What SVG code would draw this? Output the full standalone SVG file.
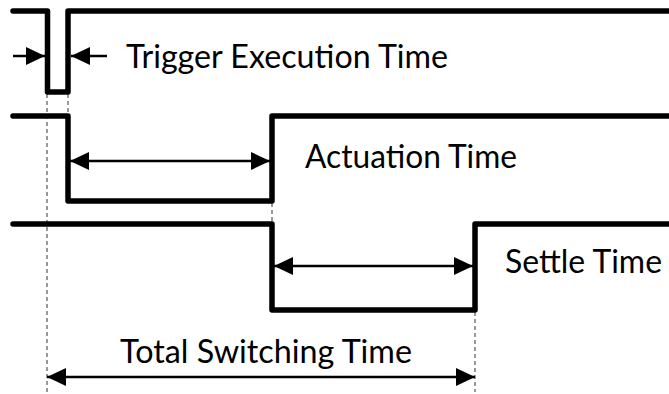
<svg xmlns="http://www.w3.org/2000/svg" width="669" height="394" viewBox="0 0 669 394">
  <style>
    .sig { fill: none; stroke: #000; stroke-width: 5.5; stroke-linejoin: round; stroke-linecap: round; }
    .dim { fill: none; stroke: #000; stroke-width: 2.5; }
    .guide { fill: none; stroke: #999; stroke-width: 2; stroke-dasharray: 4 3; }
    .lbl { font-family: Lato, "Open Sans", "Liberation Sans", sans-serif; font-size: 32px; fill: #000; }
  </style>
  <defs>
    <marker id="head" viewBox="0 0 19 18" refX="19" refY="9" markerWidth="19" markerHeight="18" markerUnits="userSpaceOnUse" orient="auto-start-reverse">
      <path d="M0,0 L19,9 L0,18 Z" fill="#000"/>
    </marker>
  </defs>

  <rect width="669" height="394" fill="#fff"/>

  <!-- timing guides and dimension arrows -->
  <g id="connectors">
    <path class="guide" d="M47,94 V392"/>
    <path class="guide" d="M68,94 V114"/>
    <path class="guide" d="M272,203 V222"/>
    <path class="guide" d="M475,312 V392"/>

    <path class="dim" d="M13,56 H45" marker-end="url(#head)"/>
    <path class="dim" d="M107,56 H71" marker-end="url(#head)"/>
    <path class="dim" d="M70,161 H270" marker-start="url(#head)" marker-end="url(#head)"/>
    <path class="dim" d="M274,266 H473" marker-start="url(#head)" marker-end="url(#head)"/>
    <path class="dim" d="M47,377 H475" marker-start="url(#head)" marker-end="url(#head)"/>
  </g>

  <g id="trigger">
    <path class="sig" d="M13,11 H47.5 V92 H68 V11 H672"/>
    <text class="lbl" x="126" y="68" textLength="322" lengthAdjust="spacingAndGlyphs">Trigger Execution Time</text>
  </g>

  <g id="actuation">
    <path class="sig" d="M13,116 H68 V201 H272 V116 H672"/>
    <text class="lbl" x="305" y="168" textLength="212" lengthAdjust="spacingAndGlyphs">Actuation Time</text>
  </g>

  <g id="settle">
    <path class="sig" d="M13,224 H272 V310 H475 V224 H672"/>
    <text class="lbl" x="505" y="273" textLength="157" lengthAdjust="spacingAndGlyphs">Settle Time</text>
  </g>

  <g id="total">
    <text class="lbl" x="120" y="363" textLength="292" lengthAdjust="spacingAndGlyphs">Total Switching Time</text>
  </g>
</svg>
